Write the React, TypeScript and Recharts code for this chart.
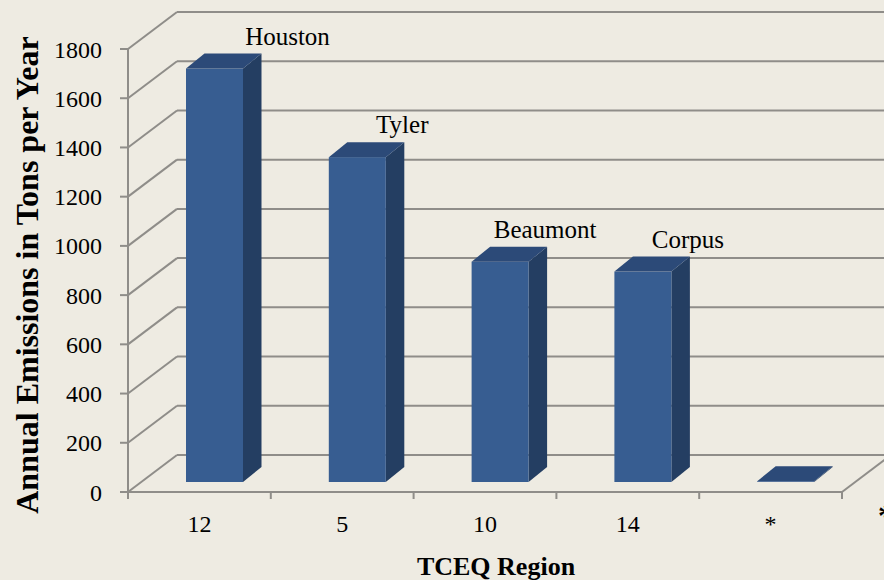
import React from 'react';
import { BarChart, Bar, XAxis, YAxis, CartesianGrid, LabelList, Label } from 'recharts';

const regions = ['12', '5', '10', '14', '*'];
const emissions = [1680, 1320, 895, 855, 3];
const cityLabels = ['Houston', 'Tyler', 'Beaumont', 'Corpus', ''];
const yTicks = [0, 200, 400, 600, 800, 1000, 1200, 1400, 1600, 1800];

const data = regions.map((r, i) => ({ region: r, value: emissions[i], city: cityLabels[i] }));

const FONT = '"Liberation Serif", "Times New Roman", serif';
const BG = '#EEEBE2';
const GRID = '#8F8D89';
const FRONT = '#375D91';
const TOP = '#2C4A78';
const SIDE = '#243E62';

// oblique projection offsets
const WALL_DX = 49;
const WALL_DY = -37;
const FACE_DX = 15;
const FACE_DY = -10;
const SIDE_DX = 18.5;
const SIDE_DY = -15;

const Bar3D = (props: any) => {
  const { x, y, width, height } = props;
  if (x == null || y == null) return null;
  const fx = x + FACE_DX;
  const fy = y + FACE_DY;
  const h = Math.max(height, 0);
  const top = `${fx},${fy} ${fx + width},${fy} ${fx + width + SIDE_DX},${fy + SIDE_DY} ${fx + SIDE_DX},${fy + SIDE_DY}`;
  const side = `${fx + width},${fy} ${fx + width + SIDE_DX},${fy + SIDE_DY} ${fx + width + SIDE_DX},${fy + h + SIDE_DY} ${fx + width},${fy + h}`;
  return (
    <g>
      <polygon points={side} fill={SIDE} />
      <rect x={fx} y={fy} width={width} height={h} fill={FRONT} />
      <polygon points={top} fill={TOP} />
    </g>
  );
};

const GridLine = (p: any) => {
  const isFloor = Math.abs(p.y1 - (p.y + p.height)) < 1;
  return (
    <g key={`grid-${p.index}-${p.y1}`}>
      <line x1={p.x1} y1={p.y1} x2={p.x1 + WALL_DX} y2={p.y1 + WALL_DY} stroke={GRID} strokeWidth={2} />
      <line x1={p.x1 + WALL_DX} y1={p.y1 + WALL_DY} x2={p.x2 + WALL_DX + 20} y2={p.y1 + WALL_DY} stroke={GRID} strokeWidth={2} />
      {isFloor && (
        <line x1={p.x2} y1={p.y1} x2={p.x2 + WALL_DX} y2={p.y1 + WALL_DY} stroke={GRID} strokeWidth={2} />
      )}
    </g>
  );
};

const X_TICK_GAP = 23;
const XTick = (props: any) => {
  const { x, y, payload, index, width, visibleTicksCount } = props;
  const half = payload && payload.offset ? payload.offset : width / (visibleTicksCount || 5) / 2;
  const axisY = y - X_TICK_GAP;
  return (
    <g>
      {index === 0 && <line x1={x - half} y1={axisY} x2={x - half} y2={axisY + 7} stroke={GRID} strokeWidth={2} />}
      <line x1={x + half} y1={axisY} x2={x + half} y2={axisY + 7} stroke={GRID} strokeWidth={2} />
      <text x={x} y={y + 17} textAnchor="middle" fontFamily={FONT} fontSize={24} fill="#000">
        {payload.value}
      </text>
    </g>
  );
};

const CityLabel = (props: any) => {
  const { x, y, width, value, index } = props;
  if (!value) return null;
  const extra = index === 0 ? 28 : 0;
  return (
    <text
      x={x + width / 2 + FACE_DX + 45 + extra}
      y={y + FACE_DY - 24}
      textAnchor="middle"
      fontFamily={FONT}
      fontSize={25}
      fill="#000"
    >
      {value}
    </text>
  );
};

export default function App() {
  return (
    <div style={{ position: 'absolute', left: 0, top: 0, width: 884, height: 580, background: BG, overflow: 'hidden' }}>
      <BarChart
        width={884}
        height={580}
        data={data}
        margin={{ top: 49, right: 42, bottom: 0, left: 0 }}
        barSize={57}
      >
        <CartesianGrid horizontal={GridLine} vertical={false} />
        <XAxis
          dataKey="region"
          height={88}
          axisLine={{ stroke: GRID, strokeWidth: 2 }}
          tickLine={false}
          tickSize={0}
          tickMargin={X_TICK_GAP}
          tick={<XTick />}
          interval={0}
        >
          <Label
            content={() => (
              <text x={496} y={575} textAnchor="middle" fontFamily={FONT} fontSize={26} fontWeight="bold" fill="#000">
                TCEQ Region
              </text>
            )}
          />
        </XAxis>
        <YAxis
          width={128}
          domain={[0, 1800]}
          ticks={yTicks}
          interval={0}
          axisLine={{ stroke: GRID, strokeWidth: 2 }}
          tickLine={{ stroke: GRID, strokeWidth: 2 }}
          tickSize={8}
          tickMargin={18}
          tick={{ fontFamily: FONT, fontSize: 24, fill: '#000' }}
        >
          <Label
            content={() => (
              <text
                x={38}
                y={275}
                transform="rotate(-90 38 275)"
                textAnchor="middle"
                fontFamily={FONT}
                fontSize={32}
                fontWeight="bold"
                fill="#000"
              >
                Annual Emissions in Tons per Year
              </text>
            )}
          />
        </YAxis>
        <Bar dataKey="value" shape={Bar3D} isAnimationActive={false}>
          <LabelList dataKey="city" content={CityLabel} />
        </Bar>
      </BarChart>
      <div
        style={{
          position: 'absolute',
          left: 878,
          top: 500,
          fontFamily: FONT,
          fontSize: 30,
          fontWeight: 'bold',
          lineHeight: '30px',
          color: '#000',
        }}
      >
        *
      </div>
    </div>
  );
}
